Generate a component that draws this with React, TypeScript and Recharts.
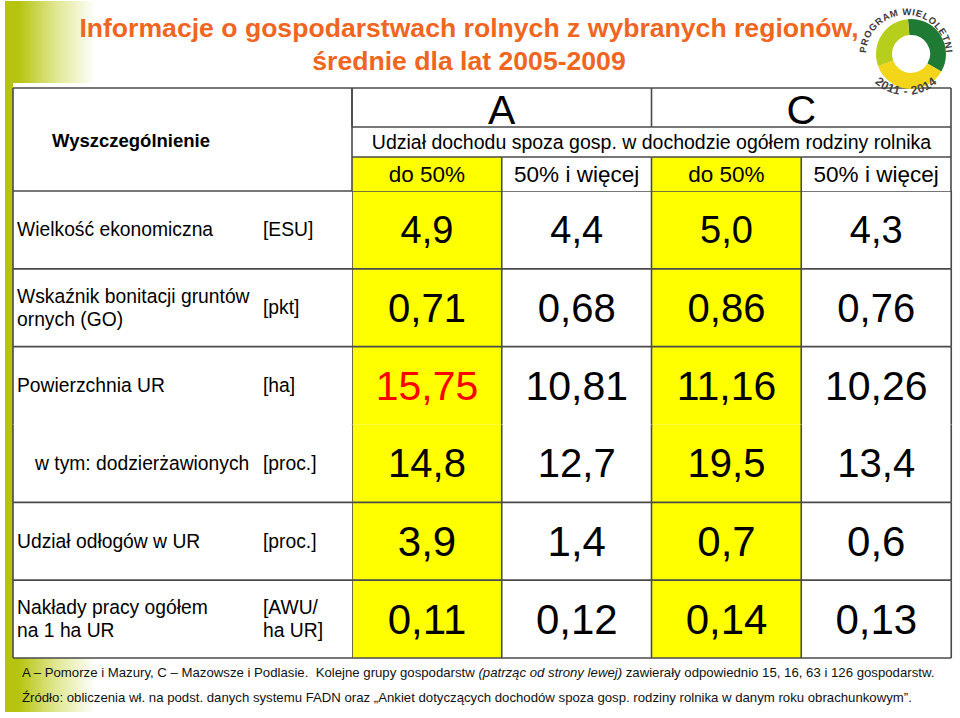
import { Bar, BarChart, Cell, Pie, PieChart, XAxis, YAxis } from "recharts";

const FONT = '"Liberation Sans", Arial, Helvetica, sans-serif';
const ORANGE = "#f0661f";
const GREEN = "#b6c40f";
const YELLOW = "#ffff00";
const LINE = "#4a4a4a";

// kolumny tabeli: region (A / C) x udział dochodu spoza gospodarstwa
const colKeys = ["A_do50", "A_50plus", "C_do50", "C_50plus"];
const colHeaders = ["do 50%", "50% i więcej", "do 50%", "50% i więcej"];
const colGroup = [0, 0, 1, 1];
const groups = ["A", "C"];
const subHeader = "Udział dochodu spoza gosp. w dochodzie ogółem rodziny rolnika";
const cornerLabel = "Wyszczególnienie";

const rowLabels = [
  ["Wielkość ekonomiczna"],
  ["Wskaźnik bonitacji gruntów", "ornych (GO)"],
  ["Powierzchnia UR"],
  ["w tym: dodzierżawionych"],
  ["Udział odłogów w UR"],
  ["Nakłady pracy ogółem", "na 1 ha UR"],
];
const rowUnits = [["[ESU]"], ["[pkt]"], ["[ha]"], ["[proc.]"], ["[proc.]"], ["[AWU/", "ha UR]"]];
const rowDecimals = [1, 2, 2, 1, 1, 2];

const valuesA_do50 = [4.9, 0.71, 15.75, 14.8, 3.9, 0.11];
const valuesA_50plus = [4.4, 0.68, 10.81, 12.7, 1.4, 0.12];
const valuesC_do50 = [5.0, 0.86, 11.16, 19.5, 0.7, 0.14];
const valuesC_50plus = [4.3, 0.76, 10.26, 13.4, 0.6, 0.13];

const footLine1a = "A – Pomorze i Mazury, C – Mazowsze i Podlasie.  Kolejne grupy gospodarstw ";
const footLine1b = "(patrząc od strony lewej)";
const footLine1c = " zawierały odpowiednio 15, 16, 63 i 126 gospodarstw.";
const footLine2 =
  "Źródło: obliczenia wł. na podst. danych systemu FADN oraz „Ankiet dotyczących dochodów spoza gosp. rodziny rolnika w danym roku obrachunkowym”.";

// logo programu wieloletniego (pierścień)
const logoParts = [125, 130, 105];
const logoColors = ["#1f7a34", "#f3d61a", "#b8ce1d"];

// układ
const W = 960;
const H = 718;
const M = { top: 88, right: 9, bottom: 60, left: 13 };
const LABEL_W = 339;
const HEAD_H = 103;
const BAND = (W - M.left - M.right - LABEL_W) / colKeys.length;
const ROW_H = (H - M.top - M.bottom - HEAD_H) / rowLabels.length;
const rowFont = [38, 40, 41, 40, 42, 42];
const MERGED_ROW = 3; // "w tym" bez linii nad sobą
const yellowCols = [0, 2];
const ln = { stroke: LINE, strokeWidth: 1.6 };

const columnValues = [valuesA_do50, valuesA_50plus, valuesC_do50, valuesC_50plus];
const tableData = colKeys.map((key, c) => {
  const entry: Record<string, any> = { key, values: columnValues[c] };
  rowLabels.forEach((_, r) => {
    entry[`r${r}`] = 1;
  });
  return entry;
});

const fmt = (v: number, d: number) => v.toFixed(d).replace(".", ",");

function ValueCell(props: any) {
  const { x, y, width, height, index, payload, row } = props;
  const top = Math.min(y, y + height);
  const h = Math.abs(height);
  const right = x + width;
  const bottom = top + h;
  const red = row === 2 && index === 0;
  return (
    <g>
      <rect x={x} y={top} width={width} height={h} fill={yellowCols.includes(index) ? YELLOW : "#fff"} />
      {row !== MERGED_ROW && <line x1={x} y1={top} x2={right} y2={top} {...ln} />}
      <line x1={x} y1={top} x2={x} y2={bottom} {...ln} />
      {index === colKeys.length - 1 && <line x1={right} y1={top} x2={right} y2={bottom} {...ln} />}
      {row === rowLabels.length - 1 && <line x1={x} y1={bottom} x2={right} y2={bottom} {...ln} />}
      <text
        x={x + width / 2}
        y={top + h / 2}
        textAnchor="middle"
        dominantBaseline="central"
        fontFamily={FONT}
        fontSize={rowFont[row]}
        fill={red ? "#ff0000" : "#000"}
      >
        {fmt(payload.values[row], rowDecimals[row])}
      </text>
    </g>
  );
}

function RowLabel(props: any) {
  const { x, y, payload } = props;
  const r = Math.floor(payload.value);
  const left = x - LABEL_W;
  const top = y - ROW_H / 2;
  const bottom = y + ROW_H / 2;
  const off = (i: number, n: number) => (i - (n - 1) / 2) * 23.5;
  const textX = left + (r === MERGED_ROW ? 22 : 4);
  return (
    <g>
      <rect x={left} y={top} width={LABEL_W} height={ROW_H} fill="#fff" />
      {r !== MERGED_ROW && <line x1={left} y1={top} x2={x} y2={top} {...ln} />}
      <line x1={left} y1={top} x2={left} y2={bottom} {...ln} />
      {r === rowLabels.length - 1 && <line x1={left} y1={bottom} x2={x} y2={bottom} {...ln} />}
      {rowLabels[r].map((t, i) => (
        <text key={t} x={textX} y={y + off(i, rowLabels[r].length)} dominantBaseline="central" fontFamily={FONT} fontSize={19.3} fill="#000">
          {t}
        </text>
      ))}
      {rowUnits[r].map((t, i) => (
        <text key={t} x={left + 250} y={y + off(i, rowUnits[r].length)} dominantBaseline="central" fontFamily={FONT} fontSize={19.3} fill="#000">
          {t}
        </text>
      ))}
    </g>
  );
}

function ColumnHeader(props: any) {
  const { x, y, payload } = props;
  const c = colKeys.indexOf(payload.value);
  const left = x - BAND / 2;
  const right = x + BAND / 2;
  const rowTop = y - 34;
  const subTop = rowTop - 30;
  const grpTop = y - HEAD_H;
  const g = colGroup[c];
  const firstInGroup = colGroup.indexOf(g) === c;
  const span = colGroup.filter((v) => v === g).length * BAND;
  return (
    <g>
      <rect x={left} y={rowTop} width={BAND} height={34} fill={yellowCols.includes(c) ? YELLOW : "#fff"} />
      <line x1={left} y1={rowTop} x2={right} y2={rowTop} {...ln} />
      <line x1={left} y1={c === 0 ? grpTop : rowTop} x2={left} y2={y} {...ln} />
      {c === colKeys.length - 1 && <line x1={right} y1={grpTop} x2={right} y2={y} {...ln} />}
      <text x={x} y={rowTop + 17} textAnchor="middle" dominantBaseline="central" fontFamily={FONT} fontSize={22.5} fill="#000">
        {colHeaders[c]}
      </text>
      {firstInGroup && (
        <g>
          <line x1={left} y1={grpTop} x2={left + span} y2={grpTop} {...ln} />
          <line x1={left} y1={grpTop} x2={left} y2={subTop} {...ln} />
          <line x1={left} y1={subTop} x2={left + span} y2={subTop} {...ln} />
          <text x={left + span / 2} y={(grpTop + subTop) / 2 + 2.5} textAnchor="middle" dominantBaseline="central" fontFamily={FONT} fontSize={41} fill="#000">
            {groups[g]}
          </text>
        </g>
      )}
      {c === 0 && (
        <g>
          <text x={left + BAND * 2} y={(subTop + rowTop) / 2} textAnchor="middle" dominantBaseline="central" fontFamily={FONT} fontSize={19.5} fill="#000">
            {subHeader}
          </text>
          <line x1={left - LABEL_W} y1={grpTop} x2={left} y2={grpTop} {...ln} />
          <line x1={left - LABEL_W} y1={grpTop} x2={left - LABEL_W} y2={y} {...ln} />
          <text x={left - LABEL_W + 39} y={(grpTop + y) / 2 + 0.5} dominantBaseline="central" fontFamily={FONT} fontSize={18.5} fontWeight="bold" fill="#000">
            {cornerLabel}
          </text>
        </g>
      )}
    </g>
  );
}

function Logo() {
  const data = logoParts.map((v, i) => ({ name: `p${i}`, value: v }));
  return (
    <div style={{ position: "absolute", left: 856, top: -1 }}>
      <PieChart width={100} height={100}>
        <Pie
          data={data}
          dataKey="value"
          cx={50}
          cy={50}
          innerRadius={19}
          outerRadius={35}
          startAngle={95}
          endAngle={-265}
          stroke="none"
          isAnimationActive={false}
        >
          {data.map((_, i) => (
            <Cell key={i} fill={logoColors[i]} />
          ))}
        </Pie>
      </PieChart>
    </div>
  );
}

export default function App() {
  return (
    <div style={{ position: "absolute", left: 0, top: 0, width: W, height: H, background: "#fff", overflow: "hidden" }}>
      <svg width={W} height={H} style={{ position: "absolute", left: 0, top: 0 }}>
        <defs>
          <linearGradient id="fade" x1="0" x2="1" y1="0" y2="0">
            <stop offset="0" stopColor={GREEN} />
            <stop offset="0.15" stopColor={GREEN} />
            <stop offset="0.55" stopColor="#dfe68c" />
            <stop offset="1" stopColor="#ffffff" />
          </linearGradient>
        </defs>
        <rect x={5} y={1} width={90} height={82} fill="url(#fade)" />
        <rect x={5} y={657} width={90} height={55} fill="url(#fade)" />
        <rect x={5} y={1} width={8} height={711} fill={GREEN} />
      </svg>

      <div style={{ position: "absolute", left: 0, top: 0 }}>
        <BarChart width={W} height={H} data={tableData} margin={M} barCategoryGap={0} barGap={0}>
          <XAxis
            dataKey="key"
            orientation="top"
            height={HEAD_H}
            interval={0}
            axisLine={false}
            tickLine={false}
            tickSize={0}
            tickMargin={0}
            tick={(p: any) => <ColumnHeader {...p} />}
          />
          <YAxis
            type="number"
            domain={[0, rowLabels.length]}
            reversed
            ticks={rowLabels.map((_, r) => r + 0.5)}
            interval={0}
            width={LABEL_W}
            axisLine={false}
            tickLine={false}
            tickSize={0}
            tickMargin={0}
            tick={(p: any) => <RowLabel {...p} />}
          />
          {rowLabels.map((_, r) => (
            <Bar
              key={r}
              dataKey={`r${r}`}
              stackId="t"
              isAnimationActive={false}
              shape={(p: any) => <ValueCell {...p} row={r} />}
            />
          ))}
        </BarChart>
      </div>

      <Logo />

      <svg width={W} height={H} style={{ position: "absolute", left: 0, top: 0, pointerEvents: "none" }}>
        <defs>
          <path id="arcTop" d="M 866.6 61.9 A 40 40 0 1 1 945.4 61.9" />
          <path id="arcBottom" d="M 868.3 75.4 A 46 46 0 0 0 943.7 75.4" />
        </defs>
        <text x={469} y={37} textAnchor="middle" fontFamily={FONT} fontSize={26.6} fontWeight="bold" fill={ORANGE}>
          Informacje o gospodarstwach rolnych z wybranych regionów,
        </text>
        <text x={469} y={70} textAnchor="middle" fontFamily={FONT} fontSize={26.6} fontWeight="bold" fill={ORANGE}>
          średnie dla lat 2005-2009
        </text>
        <text x={22} y={676.5} fontFamily={FONT} fontSize={13.2} fill="#111" style={{ whiteSpace: "pre" }}>
          {footLine1a}
          <tspan fontStyle="italic">{footLine1b}</tspan>
          {footLine1c}
        </text>
        <text x={22} y={701.5} fontFamily={FONT} fontSize={13.2} fill="#111">
          {footLine2}
        </text>
        <text fontFamily={FONT} fontSize={9.5} fontWeight="bold" fill="#3a3a3a" letterSpacing={0.6}>
          <textPath href="#arcTop" startOffset="50%" textAnchor="middle">
            PROGRAM WIELOLETNI
          </textPath>
        </text>
        <text fontFamily={FONT} fontSize={12} fontWeight="bold" fill="#444" letterSpacing={0.5}>
          <textPath href="#arcBottom" startOffset="50%" textAnchor="middle">
            2011 - 2014
          </textPath>
        </text>
      </svg>
    </div>
  );
}
